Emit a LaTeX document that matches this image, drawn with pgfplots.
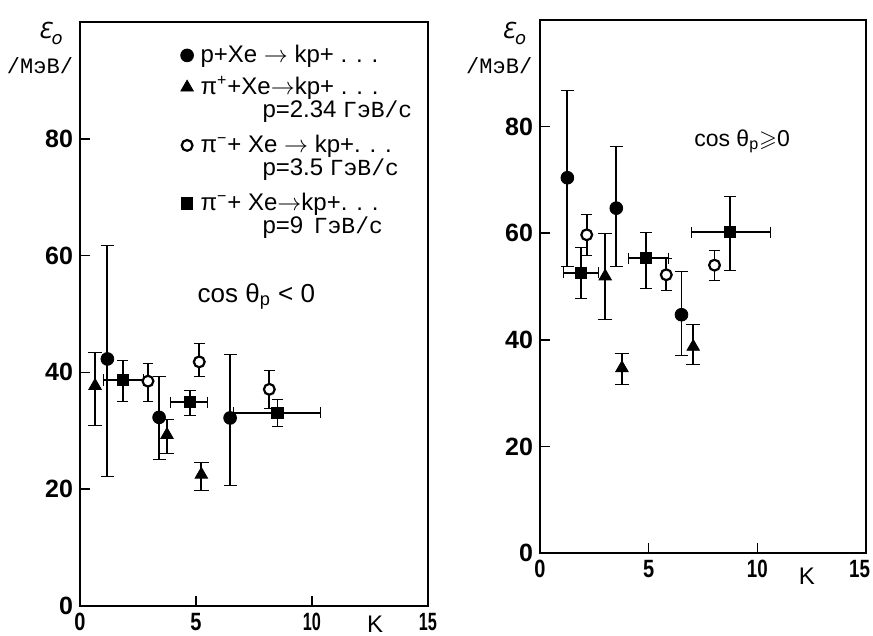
\documentclass[border=0pt]{standalone}
\usepackage{amssymb}
\usepackage{fontspec}
\setmainfont{Liberation Sans}
\newfontfamily\monocyr{Liberation Mono}
\newfontfamily\dejavu{DejaVu Sans}
\usepackage{pgfplots}
\pgfplotsset{compat=1.18}
\usepackage{pgfplotstable}

% left panel: cos theta_p < 0
\pgfplotstableread{
x    y    ep   em
1.18 42.3 19.4 20.1
3.41 32.3 7.0  7.2
6.47 32.2 10.9 11.5
}\LcircFull
\pgfplotstableread{
x    y    ep  em
0.65 37.7 5.8 6.8
3.75 29.3 2.6 3.1
5.23 22.5 2.1 2.7
}\LtriPlus
\pgfplotstableread{
x    y    ep  em
2.93 38.5 3.1 3.4
5.14 41.8 3.1 2.5
8.16 37.1 3.2 3.2
}\LcircOpen
\pgfplotstableread{
x    y    ep  em  xp   xm
1.84 38.7 3.4 3.7 0.89 0.84
4.74 34.9 2.1 2.3 0.75 0.86
8.51 33.1 2.2 2.4 1.86 1.90
}\Lsquare

% right panel: cos theta_p >= 0
\pgfplotstableread{
x    y    ep   em
1.26 70.4 16.4 16.6
3.51 64.7 11.6 10.9
6.51 44.7 8.1  7.7
}\RcircFull
\pgfplotstableread{
x    y    ep  em
3.00 51.9 8.1 8.0
3.77 34.7 2.8 3.0
7.05 38.7 4.1 3.4
}\RtriPlus
\pgfplotstableread{
x    y    ep  em
2.15 59.7 3.9 3.9
5.81 52.2 3.1 2.9
8.03 54.0 2.7 2.9
}\RcircOpen
\pgfplotstableread{
x    y    ep  em  xp   xm
1.89 52.6 4.7 4.8 0.80 0.81
4.88 55.3 4.9 5.6 1.04 0.80
8.74 60.2 6.7 7.1 1.84 1.79
}\Rsquare

\pgfplotsset{
  panel/.style={
    scale only axis, clip=false,
    xmin=0, xmax=15, ymin=0, ymax=100,
    xtick={0,5,10,15}, ytick={0,20,40,60,80},
    xtick pos=bottom, ytick pos=left,
    tick align=inside, major tick length=5pt,
    axis line style={line width=1pt},
    every tick/.style={black, line width=0.8pt},
    yticklabel style={font=\fontsize{12.5}{13}\selectfont\bfseries},
    xticklabel style={font=\fontsize{12.5}{13}\selectfont\bfseries},
    /pgf/number format/assume math mode=true,
  },
  errs/.style={black, only marks,
    error bars/y dir=both, error bars/y explicit,
    error bars/error bar style={line width=0.9pt}},
  xerrs/.style={error bars/x dir=both, error bars/x explicit},
  fcirc/.style={mark=*, mark size=3.2pt},
  ocirc/.style={mark=*, mark size=2.7pt, mark options={fill=white, line width=1.1pt}},
  tri/.style={mark=triangle*, mark size=3.6pt},
  sq/.style={mark=square*, mark size=2.8pt},
}
\tikzset{
  lgmain/.style={text height=13pt, text depth=3pt},
  lgsub/.style={text height=8.5pt, text depth=4.5pt},
}

\begin{document}
\begin{tikzpicture}
\path[use as bounding box] (0,0) rectangle (436.5pt,318pt);

\begin{axis}[panel,
  at={(40pt,15pt)}, anchor=south west,
  width=174pt, height=292pt,
  xticklabels={\scalebox{0.8}[1]{0},\scalebox{0.8}[1]{5},\scalebox{0.65}[1]{10},\scalebox{0.65}[1]{15}},
  legend cell align=left,
  legend style={at={(rel axis cs:0.287,0.976)}, anchor=north west,
    draw=none, fill=none, inner sep=0pt, row sep=0pt,
    font=\fontsize{12}{13}\selectfont,
    cells={anchor=base west},
    nodes={inner sep=0pt},
    /tikz/every odd column/.append style={column sep=3.5pt}},
  legend image code/.code={\draw[#1] plot coordinates {(0.12cm,3.5pt)};},
]
\addplot[errs, fcirc, forget plot] table[x=x, y=y, y error plus=ep, y error minus=em] {\LcircFull};
\addplot[errs, tri, forget plot] table[x=x, y=y, y error plus=ep, y error minus=em] {\LtriPlus};
\addplot[errs, ocirc, forget plot] table[x=x, y=y, y error plus=ep, y error minus=em] {\LcircOpen};
\addplot[errs, xerrs, sq, forget plot] table[x=x, y=y, y error plus=ep, y error minus=em, x error plus=xp, x error minus=xm] {\Lsquare};

\addlegendimage{black, only marks, fcirc}
\addlegendentry[lgmain]{p+Xe $\rightarrow$ kp+ . . .}
\addlegendimage{black, only marks, tri}
\addlegendentry[lgmain]{π\textsuperscript{+}+Xe$\rightarrow$kp+ . . .}
\addlegendimage{empty legend}
\addlegendentry[lgsub]{\hspace*{31pt}p=2.34 {\fontsize{11.5}{12}\monocyr ГэВ/с}}
\addlegendimage{black, only marks, ocirc}
\addlegendentry[lgmain]{π\textsuperscript{−}+ Xe $\rightarrow$ kp+. . .}
\addlegendimage{empty legend}
\addlegendentry[lgsub]{\hspace*{31pt}p=3.5 {\fontsize{11.5}{12}\monocyr ГэВ/с}}
\addlegendimage{black, only marks, sq}
\addlegendentry[lgmain]{π\textsuperscript{−}+ Xe$\rightarrow$kp+. . .}
\addlegendimage{empty legend}
\addlegendentry[lgsub]{\hspace*{31pt}p=9 \,{\fontsize{11.5}{12}\monocyr ГэВ/с}}

\node[font=\fontsize{13}{14}\selectfont] at (axis cs:7.6,53) {cos θ\textsubscript{p} < 0};
\node[font=\fontsize{11}{12}\selectfont\dejavu\itshape] at (rel axis cs:-0.085,0.98) {Ɛ\raisebox{-0.5ex}{\small o}};
\node[font=\fontsize{11}{12}\selectfont\monocyr] at (rel axis cs:-0.115,0.925) {/МэВ/};
\node[font=\fontsize{12}{13}\selectfont, inner sep=0pt] at (rel axis cs:0.848,-0.031) {K};
\end{axis}

\begin{axis}[panel,
  at={(270pt,41.5pt)}, anchor=south west,
  width=163pt, height=266.5pt,
  xticklabels={\scalebox{0.8}[1]{0},\scalebox{0.8}[1]{5},\scalebox{0.75}[1]{10},\llap{\scalebox{0.75}[1]{15}\hspace{-2pt}}},
]
\addplot[errs, fcirc] table[x=x, y=y, y error plus=ep, y error minus=em] {\RcircFull};
\addplot[errs, tri] table[x=x, y=y, y error plus=ep, y error minus=em] {\RtriPlus};
\addplot[errs, ocirc] table[x=x, y=y, y error plus=ep, y error minus=em] {\RcircOpen};
\addplot[errs, xerrs, sq] table[x=x, y=y, y error plus=ep, y error minus=em, x error plus=xp, x error minus=xm] {\Rsquare};

\node[font=\fontsize{11.5}{12}\selectfont] at (axis cs:9.3,77.2) {cos θ\textsubscript{p}$\geqslant$0};
\node[font=\fontsize{11}{12}\selectfont\dejavu\itshape] at (rel axis cs:-0.08,0.975) {Ɛ\raisebox{-0.5ex}{\small o}};
\node[font=\fontsize{11}{12}\selectfont\monocyr] at (rel axis cs:-0.125,0.915) {/МэВ/};
\node[font=\fontsize{12}{13}\selectfont, inner sep=0pt] at (rel axis cs:0.819,-0.043) {K};
\end{axis}
\end{tikzpicture}
\end{document}
